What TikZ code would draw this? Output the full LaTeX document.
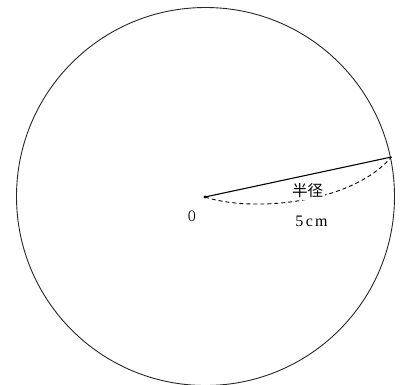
\documentclass[tikz,border=0pt]{standalone}
\usepackage{fontspec}
\setmainfont{Liberation Serif}
\newfontfamily\cjkfont{Noto Sans CJK JP}
\begin{document}
\begin{tikzpicture}[x=1bp,y=-1bp,
  rim/.style={draw=black!85,line width=0.9bp},
  radline/.style={draw=black,line width=1.1bp},
  dashline/.style={draw=black,line width=0.9bp,dash pattern=on 4bp off 3bp},
  lbl/.style={inner sep=1bp,font=\fontsize{16bp}{18bp}\selectfont}]
\useasboundingbox (0,0) rectangle (401,385);
\clip (0,0) rectangle (401,385);
\coordinate (o) at (205,197);
\coordinate (p) at (391.5,157);
\draw[rim] (205.5,196.5) circle[radius=189bp];
\draw[dashline] (o) .. controls (250,212) and (350,205) .. (p);
\draw[radline] (o) -- (p);
\fill (o) circle[radius=1.6bp];
\node[lbl,fill=white,inner sep=2bp,font=\fontsize{15.5bp}{18bp}\selectfont] (r) at (307.5,190.5) {\cjkfont 半径};
\node[lbl] (len) at (311.5,221.5) {5\hspace{2.5bp}c\hspace{2bp}m};
\node[lbl] (olbl) at (192,216) {\scalebox{0.65}[1]{O}};
\end{tikzpicture}
\end{document}
